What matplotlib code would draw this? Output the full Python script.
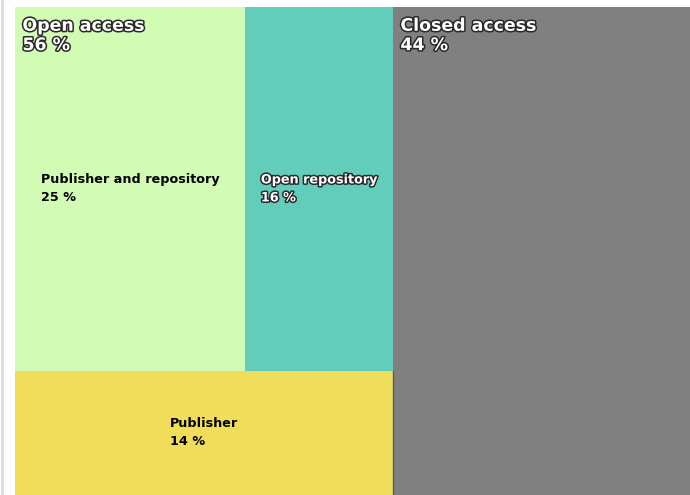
import matplotlib.pyplot as plt
import matplotlib.patheffects as pe
from matplotlib.patches import Rectangle

# access shares (percent)
groups = ['Open access', 'Closed access']
group_share = [56, 44]
open_parts = ['Publisher and repository', 'Open repository', 'Publisher']
open_share = [25, 16, 14]

colors = {'Open access': '#d2fbb4', 'Closed access': '#808080',
          'Publisher and repository': '#d2fbb4', 'Open repository': '#62cdbb',
          'Publisher': '#f0de5a'}

fig = plt.figure(figsize=(6.9, 4.95), dpi=100)
fig.patch.set_facecolor('white')
ax = fig.add_axes([15 / 690, 0, 675 / 690, 488 / 495])
ax.set_xlim(0, 100)
ax.set_ylim(100, 0)
ax.axis('off')

# thin grey rule at the left edge of the page
fig.add_artist(plt.Line2D([2 / 690, 2 / 690], [0, 1], color='#dddddd', lw=2))

outline = [pe.withStroke(linewidth=2.2, foreground='#2a2a2a')]

# top level: two columns side by side
rects = {}
x = 0
for g, s in zip(groups, group_share):
    w = s / sum(group_share) * 100
    rects[g] = (x, 0, w, 100)
    x += w

# open access split: first two in a row, last one below
ox, oy, ow, oh = rects['Open access']
row = open_share[:2]
row_h = sum(row) / sum(open_share) * oh
cx = ox
for name, s in zip(open_parts[:2], row):
    w = s / sum(row) * ow
    rects[name] = (cx, oy, w, row_h)
    cx += w
rects[open_parts[2]] = (ox, oy + row_h, ow, oh - row_h)

for name in open_parts + ['Closed access']:
    rx, ry, rw, rh = rects[name]
    ax.add_patch(Rectangle((rx, ry), rw, rh, facecolor=colors[name],
                           edgecolor='none'))
gx = rects['Closed access'][0]
ax.plot([gx, gx], [rects['Publisher'][1], 100], color='#5a5a5a', lw=1)

# group labels in the top-left corner
for g, s in zip(groups, group_share):
    rx, ry, rw, rh = rects[g]
    ax.text(rx + 1.1, ry + 2.0, f'{g}\n{s} %', ha='left', va='top',
            color='white', fontsize=12.5, fontweight='bold',
            linespacing=1.1, path_effects=outline)

# leaf labels centred in each block
for name, s in zip(open_parts, open_share):
    rx, ry, rw, rh = rects[name]
    kw = dict(color='black')
    if name == 'Open repository':
        kw = dict(color='white', path_effects=outline)
    ax.text(rx + rw / 2, ry + rh / 2, f'{name}\n{s} %', ha='center',
            va='center', multialignment='left', fontsize=9.2,
            fontweight='bold', linespacing=1.5, **kw)

fig.savefig('out.png', dpi=100)
